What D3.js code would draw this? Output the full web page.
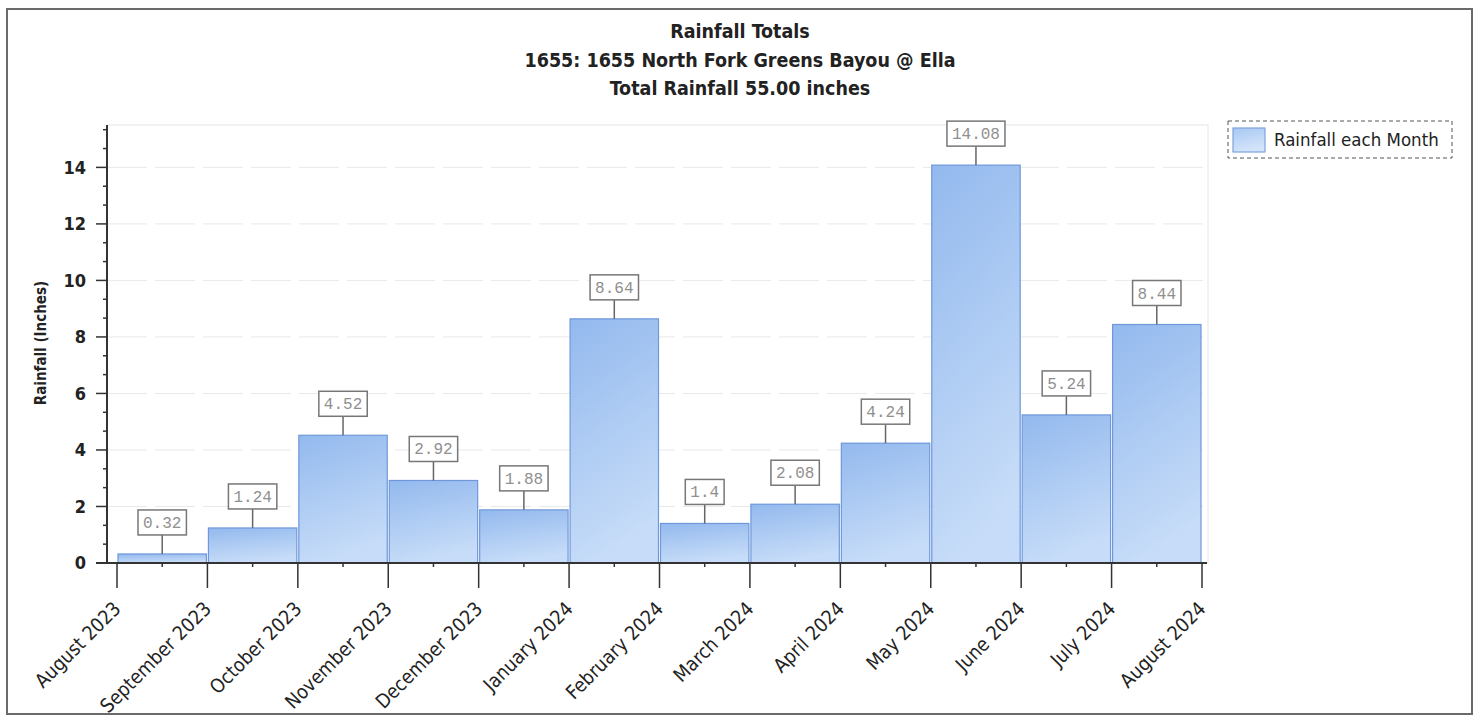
<!DOCTYPE html>
<html>
<head>
<meta charset="utf-8">
<script src="https://cdn.jsdelivr.net/npm/d3@7"></script>
<style>
  body { margin: 0; background: #fff; }
  text { font-family: "DejaVu Sans Condensed", "DejaVu Sans", sans-serif; }
</style>
</head>
<body>
<svg id="chart" width="1479" height="717"></svg>
<script>
// ---- data ----
const titleLines = [
  "Rainfall Totals",
  "1655: 1655 North Fork Greens Bayou @ Ella",
  "Total Rainfall 55.00 inches"
];
const tickLabels = [
  "August 2023", "September 2023", "October 2023", "November 2023",
  "December 2023", "January 2024", "February 2024", "March 2024",
  "April 2024", "May 2024", "June 2024", "July 2024", "August 2024"
];
const monthValues = [0.32, 1.24, 4.52, 2.92, 1.88, 8.64, 1.4, 2.08, 4.24, 14.08, 5.24, 8.44];
const yTicks = [0, 2, 4, 6, 8, 10, 12, 14];
const seriesName = "Rainfall each Month";
const yTitle = "Rainfall (Inches)";

// ---- layout ----
const svg = d3.select("#chart");
const plot = { left: 107, right: 1208, top: 125, bottom: 563 };

const x = d3.scaleLinear().domain([0, monthValues.length]).range([117, 1202]);
const y = d3.scaleLinear().domain([0, 15.5]).range([plot.bottom, plot.top]);

// gradients
const defs = svg.append("defs");
const g1 = defs.append("linearGradient").attr("id", "barFill")
  .attr("x1", 0).attr("y1", 0).attr("x2", 0.25).attr("y2", 1);
g1.append("stop").attr("offset", "0%").attr("stop-color", "#93b9ee");
g1.append("stop").attr("offset", "100%").attr("stop-color", "#c6dcf8");
const g2 = defs.append("linearGradient").attr("id", "legFill")
  .attr("x1", 0).attr("y1", 0).attr("x2", 0.3).attr("y2", 1);
g2.append("stop").attr("offset", "0%").attr("stop-color", "#a9c8f3");
g2.append("stop").attr("offset", "100%").attr("stop-color", "#d3e4fa");

// outer frame
svg.append("rect")
  .attr("x", 7).attr("y", 9).attr("width", 1465).attr("height", 705)
  .attr("fill", "none").attr("stroke", "#6a6a6a").attr("stroke-width", 2);

// titles
svg.append("g").selectAll("text").data(titleLines).join("text")
  .attr("x", 740).attr("y", (d, i) => 38 + i * 28.5)
  .attr("text-anchor", "middle")
  .attr("font-size", 19.5).attr("font-weight", "bold").attr("fill", "#222")
  .text(d => d);

// plot area border and grid
svg.append("rect")
  .attr("x", plot.left).attr("y", plot.top)
  .attr("width", plot.right - plot.left).attr("height", plot.bottom - plot.top)
  .attr("fill", "none").attr("stroke", "#e6e6e6");
svg.append("g").selectAll("line").data(yTicks.filter(d => d > 0)).join("line")
  .attr("x1", plot.left).attr("x2", plot.right)
  .attr("y1", d => y(d)).attr("y2", d => y(d))
  .attr("stroke", "#e9e9e9").attr("stroke-dasharray", "40,8");

// bars
svg.append("g").selectAll("rect").data(monthValues).join("rect")
  .attr("x", (d, i) => x(i) + 1)
  .attr("width", (d, i) => x(i + 1) - x(i) - 2)
  .attr("y", d => y(d))
  .attr("height", d => y(0) - y(d))
  .attr("fill", "url(#barFill)")
  .attr("stroke", "#6e98da").attr("stroke-width", 1.2);

// value callouts
const call = svg.append("g").selectAll("g").data(monthValues).join("g")
  .attr("transform", (d, i) => `translate(${(x(i) + x(i + 1)) / 2},${y(d)})`);
call.append("line")
  .attr("y1", 0).attr("y2", -19)
  .attr("stroke", "#666").attr("stroke-width", 1.5);
call.append("text")
  .attr("y", -26).attr("text-anchor", "middle")
  .style("font-family", "'Liberation Mono', 'DejaVu Sans Mono', monospace")
  .attr("font-size", 16).attr("fill", "#8f8f8f")
  .text(d => String(d));
call.each(function () {
  const g = d3.select(this);
  const bb = g.select("text").node().getBBox();
  g.insert("rect", "text")
    .attr("x", bb.x - 5).attr("y", -44)
    .attr("width", bb.width + 10).attr("height", 25)
    .attr("fill", "#fff").attr("stroke", "#777").attr("stroke-width", 1.5);
});

// y axis
const yAxis = svg.append("g");
yAxis.append("line")
  .attr("x1", plot.left).attr("x2", plot.left)
  .attr("y1", plot.top).attr("y2", plot.bottom)
  .attr("stroke", "#333").attr("stroke-width", 2);
const minorY = d3.range(0, 15.5, 2 / 3).filter(v => Math.abs(v - Math.round(v / 2) * 2) > 0.01);
yAxis.selectAll(".minor").data(minorY).join("line")
  .attr("x1", plot.left - 4).attr("x2", plot.left)
  .attr("y1", d => y(d)).attr("y2", d => y(d))
  .attr("stroke", "#333").attr("stroke-width", 1.5);
yAxis.selectAll(".major").data(yTicks).join("line")
  .attr("x1", plot.left - 11).attr("x2", plot.left)
  .attr("y1", d => y(d)).attr("y2", d => y(d))
  .attr("stroke", "#333").attr("stroke-width", 1.5);
yAxis.selectAll("text").data(yTicks).join("text")
  .attr("x", 86).attr("y", d => y(d)).attr("dy", "0.36em")
  .attr("text-anchor", "end")
  .attr("font-size", 18).attr("font-weight", "bold").attr("fill", "#222")
  .text(d => d);
svg.append("text")
  .attr("transform", "translate(46,343) rotate(-90)")
  .attr("text-anchor", "middle")
  .attr("font-size", 15).attr("font-weight", "bold").attr("fill", "#222")
  .text(yTitle);

// x axis
const xAxis = svg.append("g");
xAxis.append("line")
  .attr("x1", 96).attr("x2", 1207)
  .attr("y1", plot.bottom).attr("y2", plot.bottom)
  .attr("stroke", "#333").attr("stroke-width", 2);
xAxis.selectAll(".major").data(tickLabels).join("line")
  .attr("x1", (d, i) => x(i)).attr("x2", (d, i) => x(i))
  .attr("y1", plot.bottom).attr("y2", plot.bottom + 25)
  .attr("stroke", "#333").attr("stroke-width", 1.5);
xAxis.selectAll(".minor").data(monthValues).join("line")
  .attr("x1", (d, i) => (x(i) + x(i + 1)) / 2).attr("x2", (d, i) => (x(i) + x(i + 1)) / 2)
  .attr("y1", plot.bottom).attr("y2", plot.bottom + 4)
  .attr("stroke", "#333").attr("stroke-width", 1.5);
xAxis.selectAll("text").data(tickLabels).join("text")
  .attr("transform", (d, i) => `translate(${x(i) + 5},${plot.bottom + 47}) rotate(-45)`)
  .attr("text-anchor", "end")
  .attr("font-size", 19.5).attr("fill", "#222")
  .text(d => d);

// legend
const leg = svg.append("g");
leg.append("rect")
  .attr("x", 1228).attr("y", 121).attr("width", 224).attr("height", 37)
  .attr("fill", "#fff").attr("stroke", "#555").attr("stroke-dasharray", "4,3");
leg.append("rect")
  .attr("x", 1233).attr("y", 128).attr("width", 32).attr("height", 24)
  .attr("fill", "url(#legFill)").attr("stroke", "#7ea3dd").attr("stroke-width", 1.2);
leg.append("text")
  .attr("x", 1274).attr("y", 146)
  .attr("font-size", 18.5).attr("fill", "#222")
  .text(seriesName);
</script>
</body>
</html>
